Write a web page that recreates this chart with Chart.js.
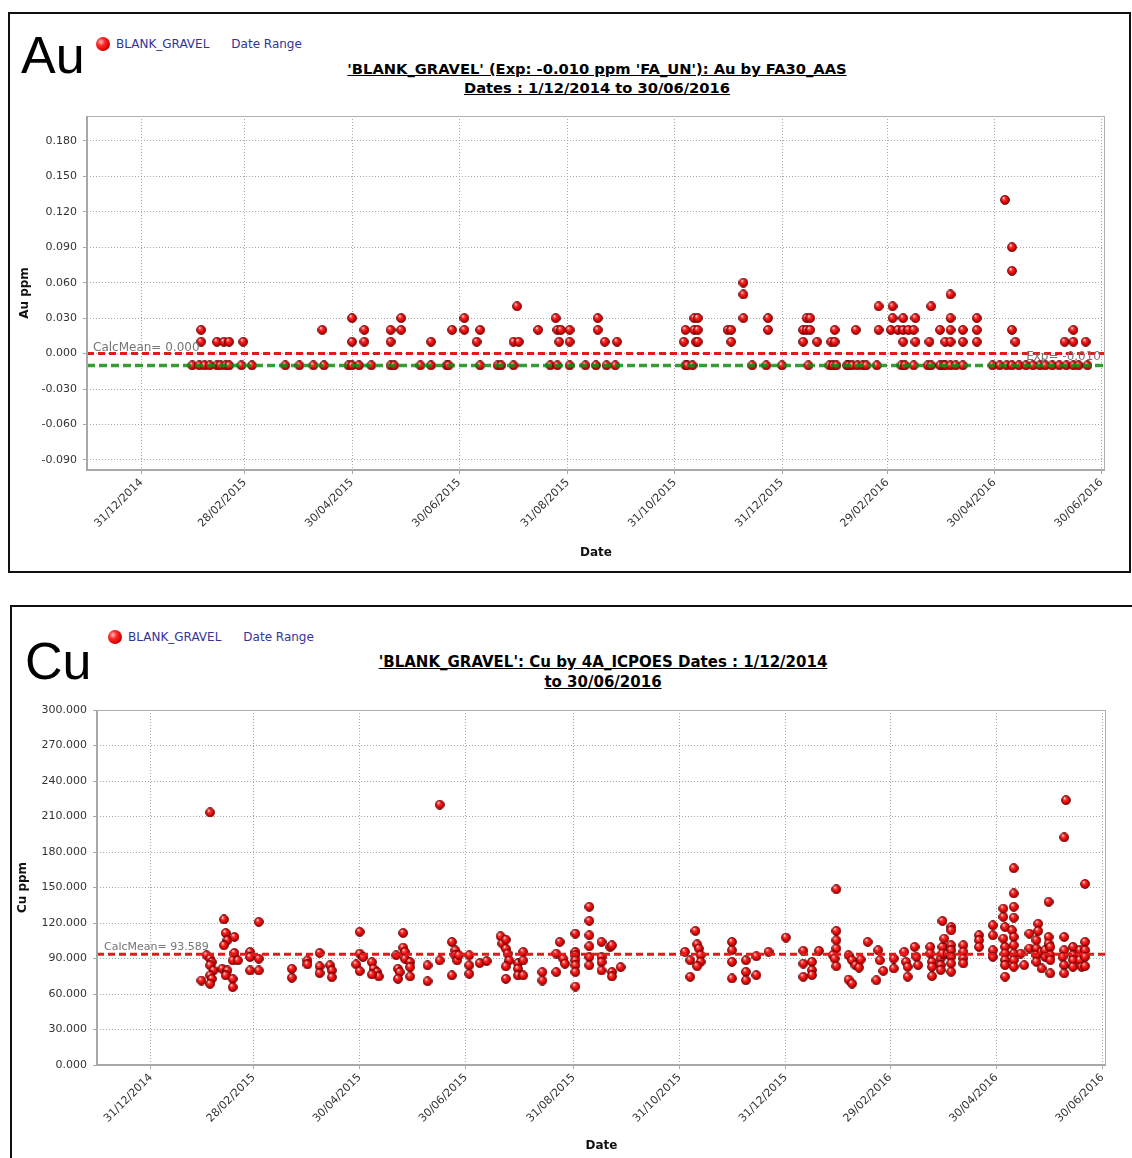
<!DOCTYPE html>
<html>
<head>
<meta charset="utf-8">
<script src="https://cdn.jsdelivr.net/npm/chart.js@4.4.1/dist/chart.umd.min.js"></script>
<style>
html,body{margin:0;padding:0;background:#fff;overflow:hidden;width:1132px;height:1158px;}
.panel{position:absolute;border:2px solid #111;box-sizing:border-box;background:#fff;}
#pAu{left:8px;top:12px;width:1123px;height:561px;}
#pCu{left:10px;top:605px;width:1140px;height:570px;}
canvas{position:absolute;}
.big{position:absolute;font-family:"Liberation Sans",Arial,sans-serif;font-size:52px;line-height:52px;color:#000;}
.legend{position:absolute;font-family:"DejaVu Sans",sans-serif;font-size:12px;color:#333399;white-space:nowrap;line-height:14px;}
.legend .dot{display:inline-block;width:14px;height:14px;border-radius:50%;background:radial-gradient(circle at 35% 35%,#ffc0c0 0%,#ff2a2a 30%,#d40000 70%,#800000 100%);vertical-align:-3px;margin-right:6px;}
.legend .dr{margin-left:22px;}
.title{position:absolute;font-family:"DejaVu Sans",sans-serif;font-weight:bold;text-decoration:underline;text-align:center;color:#000;width:700px;}
</style>
</head>
<body>
<div class="panel" id="pAu"></div>
<div class="panel" id="pCu"></div>

<div class="big" style="left:21px;top:29px;">Au</div>
<div class="legend" style="left:96px;top:37px;"><span class="dot"></span>BLANK_GRAVEL<span class="dr">Date Range</span></div>
<div class="title" style="left:247px;top:59px;font-size:14.7px;line-height:19px;">'BLANK_GRAVEL' (Exp: -0.010 ppm 'FA_UN'): Au by FA30_AAS<br>Dates : 1/12/2014 to 30/06/2016</div>
<canvas id="cAu" width="1119" height="557" style="left:10px;top:14px;"></canvas>

<div class="big" style="left:25px;top:635px;">Cu</div>
<div class="legend" style="left:108px;top:630px;"><span class="dot"></span>BLANK_GRAVEL<span class="dr">Date Range</span></div>
<div class="title" style="left:253px;top:652px;font-size:15px;line-height:20px;">'BLANK_GRAVEL': Cu by 4A_ICPOES Dates : 1/12/2014<br>to 30/06/2016</div>
<canvas id="cCu" width="1120" height="551" style="left:12px;top:607px;"></canvas>

<script>
// ---------- DATA (x = days since 1/12/2014) ----------
const xTickDays   = [30, 89, 150, 211, 273, 334, 395, 455, 516, 577];
const xTickLabels = ['31/12/2014','28/02/2015','30/04/2015','30/06/2015','31/08/2015',
                     '31/10/2015','31/12/2015','29/02/2016','30/04/2016','30/06/2016'];

const auYTicks = [-0.09, -0.06, -0.03, 0, 0.03, 0.06, 0.09, 0.12, 0.15, 0.18];
const cuYTicks = [0, 30, 60, 90, 120, 150, 180, 210, 240, 270, 300];

const auCalcMean = 0.000;
const auExpected = -0.010;
const cuCalcMean = 93.589;

// Au ppm: result levels and the sample days at each level
const auLevels = [-0.01, 0.01, 0.02, 0.03, 0.04, 0.05, 0.06, 0.07, 0.09, 0.13];
const auDaysAtLevel = [
  [59,63,66,69,73,75,78,80,87,93,112,120,128,134,148,150,154,161,172,174,189,195,204,205,223,233,235,242,
   263,267,274,283,289,295,300,340,341,344,378,386,395,410,422,424,426,432,433,435,438,441,443,449,463,465,
   470,478,480,485,487,488,491,494,498,515,519,523,526,530,534,538,542,545,549,553,557,561,564,569],
  [64,73,77,80,88,150,157,172,195,221,242,245,268,274,294,301,339,346,347,366,407,415,423,425,464,471,479,
   488,491,498,506,528,556,561,568],
  [64,133,157,172,178,207,214,223,256,267,269,274,290,340,345,347,364,366,387,407,409,411,425,437,450,457,
   461,464,467,470,485,491,498,506,526,561],
  [150,178,214,266,290,345,347,373,387,409,411,458,464,471,491,506],
  [244,450,458,480],
  [373,491],
  [373],
  [526],
  [526],
  [522]
];

// Cu ppm: sample day and value (parallel arrays)
const cuDays = [
  59,62,64,65,64,66,64,65,64,64,
  72,73,74,72,78,78,77,80,71,74,73,77,77,
  87,87,92,92,87,92,
  111,111,120,120,127,127,127,133,134,134,
  150,150,152,148,150,157,158,160,161,157,
  171,172,173,172,175,175,176,176,179,179,179,189,189,
  196,196,203,205,205,206,203,207,
  213,213,213,219,223,
  231,232,234,234,235,236,234,234,241,241,241,244,244,244,
  255,255,263,263,265,267,268,
  274,274,274,274,274,274,274,282,282,282,282,282,282,
  289,289,289,289,294,295,295,295,300,
  337,340,340,343,344,345,346,346,344,
  364,364,364,364,372,372,372,378,378,385,
  395,405,405,405,410,410,410,414,
  424,424,424,424,422,423,424,
  431,433,435,438,437,431,433,442,
  448,449,451,447,
  457,457,463,464,465,465,469,470,471,
  478,478,479,479,479,484,484,484,485,485,485,486,488,
  490,490,490,490,490,490,490,497,497,497,497,
  506,506,506,514,514,514,514,
  520,520,521,520,521,521,521,521,521,
  526,526,526,526,525,526,526,526,526,526,532,530,535,535,
  540,540,539,539,539,539,542,542,
  546,546,546,544,544,547,547,547,547,
  555,555,554,555,555,556,555,
  560,560,560,560,564,564,565,567,567,567,567,567
];
const cuPpm = [
  71.4,92.7,89.8,86.9,84.2,79.9,75.7,72.8,68.6,213.4,
  123.0,111.6,105.4,101.1,108.2,94.7,88.4,88.4,81.3,79.9,75.7,72.8,65.8,
  95.5,91.2,121.0,89.8,79.9,79.9,
  81.3,73.7,88.4,85.0,94.7,83.3,77.6,84.2,79.9,74.2,
  112.5,94.1,91.2,85.0,79.3,86.9,81.3,78.5,74.8,76.5,
  92.7,81.3,78.5,72.8,111.6,99.2,95.5,89.8,86.9,82.7,74.8,84.2,70.8,
  220.0,88.4,104.0,96.9,92.7,88.4,75.7,92.7,
  92.7,84.2,77.1,86.1,87.8,
  108.8,102.6,105.9,98.3,94.1,88.4,83.3,72.8,86.1,81.3,75.7,95.5,88.4,75.7,
  78.5,71.4,94.1,78.5,104.0,89.8,85.6,
  111.0,95.5,92.7,88.4,84.2,78.5,66.3,133.7,121.8,109.6,100.3,91.2,84.2,
  104.0,91.2,86.9,79.9,99.7,101.1,78.5,74.8,82.7,
  95.6,88.5,74.5,113.3,102.0,98.4,92.8,87.2,83.5,
  104.0,97.0,87.2,73.1,88.5,78.7,71.6,91.9,75.9,95.6,
  107.7,96.5,85.7,74.5,87.2,80.1,75.9,96.5,
  148.5,113.3,105.4,98.4,92.8,89.9,83.5,
  92.8,88.5,84.3,89.1,82.3,72.2,68.8,104.0,
  97.0,88.5,79.5,71.6,
  90.0,81.6,95.6,87.2,83.0,74.6,99.8,91.4,84.4,
  99.8,94.2,87.2,83.0,75.1,90.0,84.4,80.2,99.8,94.2,121.7,106.8,94.2,
  116.6,113.8,101.2,97.0,91.4,85.8,78.8,101.2,95.6,90.0,85.8,
  109.6,105.4,99.8,118.0,109.6,97.0,91.4,
  132.2,125.2,116.6,106.8,99.8,94.2,88.6,84.4,74.6,
  166.3,145.0,133.7,124.5,113.8,108.2,101.2,94.2,88.6,83.0,84.4,94.2,111.0,98.4,
  119.4,113.2,105.4,98.4,92.8,87.2,81.6,95.6,
  137.9,108.2,102.6,97.0,91.4,99.8,92.8,88.6,77.4,
  108.2,97.0,91.4,84.4,77.4,223.8,192.4,
  99.8,92.8,88.6,83.0,97.0,88.6,83.0,104.0,97.0,91.4,83.6,153.0
];

// ---------- RENDERING ----------
Chart.defaults.font.family = "'DejaVu Sans', sans-serif";
Chart.defaults.color = '#333';

function sphere(d) {
  const c = document.createElement('canvas');
  c.width = d; c.height = d;
  const g = c.getContext('2d');
  const r = d / 2;
  const grad = g.createRadialGradient(r * 0.7, r * 0.6, r * 0.1, r, r, r);
  grad.addColorStop(0, '#ffc8c8');
  grad.addColorStop(0.25, '#ff3030');
  grad.addColorStop(0.7, '#d40000');
  grad.addColorStop(1, '#820000');
  g.fillStyle = grad;
  g.beginPath(); g.arc(r, r, r - 0.5, 0, Math.PI * 2); g.fill();
  g.strokeStyle = 'rgba(80,0,0,0.85)'; g.lineWidth = 0.9; g.stroke();
  return c;
}

const refLines = {
  id: 'refLines',
  afterDatasetsDraw(chart, args, opts) {
    const {ctx, chartArea: a, scales: {y}} = chart;
    ctx.save();
    (opts.lines || []).forEach(l => {
      const py = y.getPixelForValue(l.value);
      ctx.beginPath();
      ctx.setLineDash(l.dash);
      ctx.lineWidth = l.width;
      ctx.strokeStyle = l.color;
      ctx.moveTo(a.left, py); ctx.lineTo(a.right, py);
      ctx.stroke();
    });
    ctx.setLineDash([]);
    (opts.lines || []).forEach(l => {
      if (!l.label) return;
      const py = y.getPixelForValue(l.value);
      ctx.font = l.font;
      ctx.fillStyle = '#757575';
      ctx.textBaseline = 'alphabetic';
      ctx.textAlign = l.align;
      const px = l.align === 'left' ? a.left + l.dx : a.right - l.dx;
      ctx.fillText(l.label, px, py + l.dy);
    });
    ctx.restore();
  },
  afterDraw(chart) {
    const {ctx, chartArea: a} = chart;
    ctx.save();
    ctx.strokeStyle = '#b0b0b0';
    ctx.lineWidth = 1;
    ctx.strokeRect(a.left + 0.5, a.top + 0.5, a.right - a.left - 1, a.bottom - a.top - 1);
    ctx.strokeStyle = '#a8a8a8';
    ctx.lineWidth = 2;
    ctx.beginPath();
    ctx.moveTo(a.left, a.top); ctx.lineTo(a.left, a.bottom); ctx.lineTo(a.right, a.bottom);
    ctx.stroke();
    ctx.restore();
  }
};

function xScale(h) {
  return {
    type: 'linear', min: -1, max: 579, bounds: 'data',
    afterBuildTicks: s => { s.ticks = xTickDays.map(v => ({value: v})); },
    afterFit: s => { s.height = h; },
    ticks: {
      autoSkip: false, minRotation: 45, maxRotation: 45,
      callback: (v, i) => xTickLabels[i],
      font: {size: 11}, color: '#333', padding: 2
    },
    grid: {color: '#a8a8a8', lineWidth: 1, tickLength: 4},
    border: {display: false, dash: [1, 2]},
    title: {display: true, text: 'Date', color: '#111',
            font: {size: 12, weight: 'bold'}, padding: {top: 4, bottom: 4}}
  };
}
function yScale(min, max, ticksArr, w, label) {
  return {
    type: 'linear', min: min, max: max, bounds: 'data',
    afterBuildTicks: s => { s.ticks = ticksArr.map(v => ({value: v})); },
    afterFit: s => { s.width = w; },
    ticks: {callback: v => Number(v).toFixed(3), font: {size: 11}, color: '#333', padding: 6},
    grid: {color: '#a8a8a8', lineWidth: 1, tickLength: 4},
    border: {display: false, dash: [1, 2]},
    title: {display: true, text: label, color: '#111',
            font: {size: 12, weight: 'bold'}, padding: {top: 0, bottom: 0}}
  };
}

// Au chart
const auPoints = [];
auLevels.forEach((lv, k) => auDaysAtLevel[k].forEach(d => auPoints.push({x: d, y: lv})));

new Chart(document.getElementById('cAu'), {
  type: 'scatter',
  data: {datasets: [{label: 'BLANK_GRAVEL', data: auPoints, pointStyle: sphere(10), pointRadius: 5}]},
  options: {
    responsive: false, animation: false, events: [],
    layout: {padding: {left: 8, top: 102, right: 24, bottom: 7}},
    scales: {x: xScale(94), y: yScale(-0.0985, 0.201, auYTicks, 69, 'Au ppm')},
    plugins: {
      legend: {display: false}, tooltip: {enabled: false},
      refLines: {lines: [
        {value: auCalcMean, color: '#e01b1b', width: 3, dash: [7, 4],
         label: 'CalcMean= ' + auCalcMean.toFixed(3), align: 'left', dx: 6, dy: -3, font: "12px 'DejaVu Sans'"},
        {value: auExpected, color: 'rgba(20,140,20,0.85)', width: 3.5, dash: [8, 4],
         label: 'Exp= ' + auExpected.toFixed(3), align: 'right', dx: 4, dy: -5, font: "12px 'DejaVu Sans'"}
      ]}
    }
  },
  plugins: [refLines]
});

// Cu chart
const cuPoints = cuDays.map((d, i) => ({x: d, y: cuPpm[i]}));
new Chart(document.getElementById('cCu'), {
  type: 'scatter',
  data: {datasets: [{label: 'BLANK_GRAVEL', data: cuPoints, pointStyle: sphere(10), pointRadius: 5}]},
  options: {
    responsive: false, animation: false, events: [],
    layout: {padding: {left: 4, top: 103, right: 26, bottom: 1}},
    scales: {x: xScale(92), y: yScale(0, 300, cuYTicks, 81, 'Cu ppm')},
    plugins: {
      legend: {display: false}, tooltip: {enabled: false},
      refLines: {lines: [
        {value: cuCalcMean, color: '#e01b1b', width: 3, dash: [7, 4],
         label: 'CalcMean= ' + cuCalcMean.toFixed(3), align: 'left', dx: 7, dy: -4, font: "11px 'DejaVu Sans'"}
      ]}
    }
  },
  plugins: [refLines]
});
</script>
</body>
</html>
